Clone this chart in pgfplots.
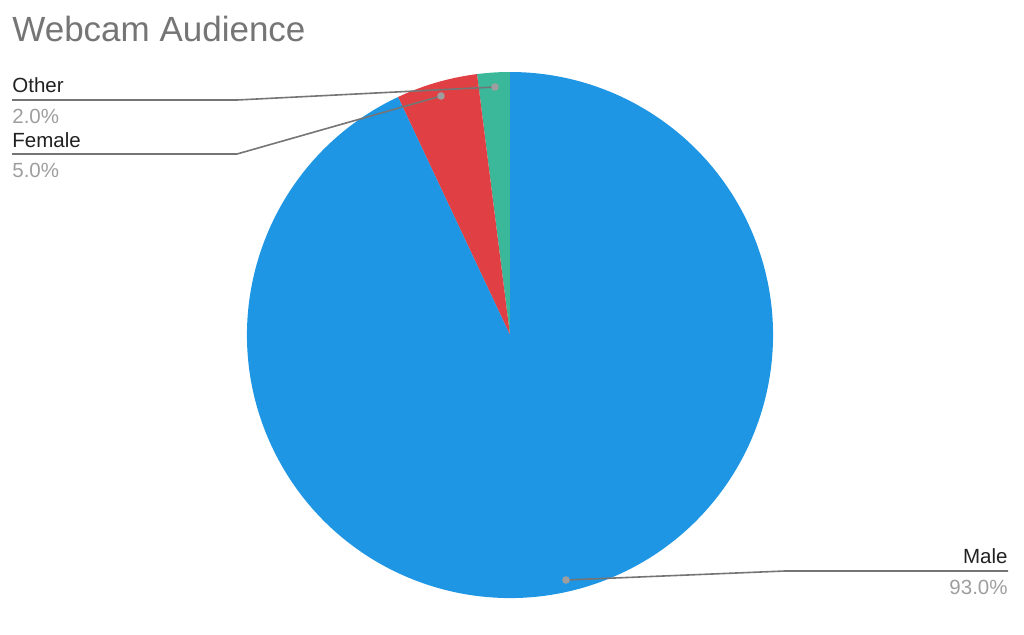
\documentclass[border=0pt]{standalone}
\usepackage{pgfplots}
\usepackage{pgfplotstable}
\pgfplotsset{compat=1.18}
\usepackage{fontspec}
\setmainfont{Liberation Sans}

\definecolor{cMale}{RGB}{30,150,228}
\definecolor{cFemale}{RGB}{224,64,67}
\definecolor{cOther}{RGB}{59,183,153}
\definecolor{lead}{RGB}{117,117,117}
\definecolor{dotc}{RGB}{158,158,158}
\definecolor{pct}{RGB}{158,158,158}
\definecolor{ttl}{RGB}{117,117,117}
\definecolor{lbl}{RGB}{33,33,33}

% share of the audience, in percent
\pgfplotstableread{
label  value
Male   93
Female 5
Other  2
}\audience

\pgfplotstablegetelem{0}{value}\of\audience \let\vMale\pgfplotsretval
\pgfplotstablegetelem{1}{value}\of\audience \let\vFemale\pgfplotsretval
\pgfplotstablegetelem{2}{value}\of\audience \let\vOther\pgfplotsretval
% slices run counter-clockwise from the top: Other, Female, Male
\pgfmathsetmacro\aA{90}
\pgfmathsetmacro\aB{\aA+3.6*\vOther}
\pgfmathsetmacro\aC{\aB+3.6*\vFemale}
\pgfmathsetmacro\aD{\aC+3.6*\vMale}

\begin{document}
\begin{tikzpicture}
\begin{axis}[
    width=512pt, height=301.5pt,
    scale only axis,
    xmin=0, xmax=1024, ymin=0, ymax=603,
    hide axis,
    clip=false,
]
\path (axis cs:0,0) rectangle (axis cs:1024,603);
\def\R{131.5pt}
\fill[cOther] (axis cs:510,268) -- ++(\aA:\R) arc[start angle=\aA, end angle=\aB, radius=\R] -- cycle;
\fill[cFemale] (axis cs:510,268) -- ++(\aB:\R) arc[start angle=\aB, end angle=\aC, radius=\R] -- cycle;
\fill[cMale] (axis cs:510,268) -- ++(\aC:\R) arc[start angle=\aC, end angle=\aD, radius=\R] -- cycle;

% title
\node[anchor=base west, inner sep=0, text=ttl, font=\fontsize{17.5}{20}\selectfont] at (axis cs:12,561) {Webcam Audience};

% leader lines
\draw[lead, line width=0.8pt] (axis cs:12,503) -- (axis cs:237,503) -- (axis cs:495,516);
\fill[dotc] (axis cs:495,516) circle[radius=1.9pt];
\draw[lead, line width=0.8pt] (axis cs:12,449) -- (axis cs:237,449) -- (axis cs:441,507);
\fill[dotc] (axis cs:441,507) circle[radius=1.9pt];
\draw[lead, line width=0.8pt] (axis cs:1008,32) -- (axis cs:785,32) -- (axis cs:566,23);
\fill[dotc] (axis cs:566,23) circle[radius=1.9pt];

% labels
\begin{scope}[every node/.style={inner sep=0, font=\fontsize{10.25}{12}\selectfont}]
\node[anchor=base west, text=lbl] at (axis cs:12,510) {Other};
\node[anchor=base west, text=pct] at (axis cs:12,480) {2.0\%};
\node[anchor=base west, text=lbl] at (axis cs:12,456) {Female};
\node[anchor=base west, text=pct] at (axis cs:12,426) {5.0\%};
\node[anchor=base east, text=lbl] at (axis cs:1008,40) {Male};
\node[anchor=base east, text=pct] at (axis cs:1008,9) {93.0\%};
\end{scope}
\end{axis}
\end{tikzpicture}
\end{document}
